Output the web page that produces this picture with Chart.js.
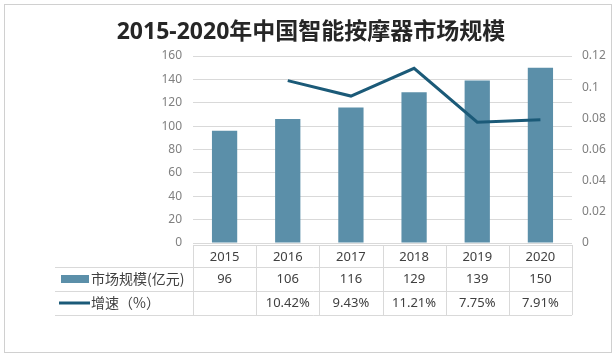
<!DOCTYPE html>
<html>
<head>
<meta charset="utf-8">
<script src="https://cdn.jsdelivr.net/npm/chart.js"></script>
<style>
  html, body { margin: 0; padding: 0; background: #fff; }
  #wrap { width: 616px; height: 358px; position: relative; }
</style>
</head>
<body>
<div id="wrap"><canvas id="chart" width="616" height="358"></canvas></div>
<script>
  // chart data
  const titleText = '2015-2020年中国智能按摩器市场规模';
  const years = ['2015', '2016', '2017', '2018', '2019', '2020'];
  const marketSize = [96, 106, 116, 129, 139, 150];
  const growthRate = [null, 0.1042, 0.0943, 0.1121, 0.0775, 0.0791];
  const leftTicks = { min: 0, max: 160, step: 20 };
  const rightTicks = { min: 0, max: 0.12, step: 0.02 };
  const seriesNames = ['市场规模(亿元)', '增速（%）'];

  const barColor = '#5b8fa9';
  const lineColor = '#1b5a78';
  const gridColor = '#d9d9d9';
  const latin = '"Noto Sans", "Noto Sans CJK SC", sans-serif';
  const cjk = '"Noto Sans CJK SC", "Noto Sans", sans-serif';

  // frame, title and the data table under the plot
  const decor = {
    id: 'decor',
    beforeDraw(chart) {
      const ctx = chart.ctx;
      ctx.save();
      ctx.fillStyle = '#fff';
      ctx.fillRect(0, 0, chart.width, chart.height);
      ctx.strokeStyle = '#d0d0d0';
      ctx.lineWidth = 1;
      ctx.strokeRect(4.5, 4.5, 607, 348);
      ctx.restore();
    },
    afterDraw(chart) {
      const ctx = chart.ctx;
      const area = chart.chartArea;
      const x = chart.scales.x;
      const half = (area.right - area.left) / years.length / 2;
      ctx.save();

      // title
      ctx.fillStyle = '#262626';
      ctx.font = 'bold 23px ' + latin;
      ctx.textAlign = 'center';
      ctx.textBaseline = 'middle';
      ctx.fillText(titleText, 311, 32);

      // table lines
      const top = area.bottom + 2;
      const rows = [top, top + 22, top + 46, top + 70];
      const tableLeft = 55;
      ctx.strokeStyle = gridColor;
      ctx.lineWidth = 1;
      ctx.beginPath();
      ctx.moveTo(area.left, rows[0] + 0.5);
      ctx.lineTo(area.right, rows[0] + 0.5);
      for (let r = 1; r < rows.length; r++) {
        ctx.moveTo(tableLeft, rows[r] + 0.5);
        ctx.lineTo(area.right, rows[r] + 0.5);
      }
      for (let i = 0; i <= years.length; i++) {
        const bx = Math.round(area.left + i * half * 2) + 0.5;
        ctx.moveTo(bx, rows[0]);
        ctx.lineTo(bx, rows[3]);
      }
      ctx.stroke();

      // table text
      ctx.fillStyle = '#404040';
      ctx.font = '13px ' + latin;
      ctx.textAlign = 'center';
      years.forEach((yr, i) => {
        const cx = x.getPixelForValue(i);
        ctx.fillText(yr, cx, (rows[0] + rows[1]) / 2 + 1);
        ctx.fillText(String(marketSize[i]), cx, (rows[1] + rows[2]) / 2);
        if (growthRate[i] != null) {
          ctx.fillText((growthRate[i] * 100).toFixed(2) + '%', cx, (rows[2] + rows[3]) / 2);
        }
      });

      // legend keys inside the table
      const y2 = (rows[1] + rows[2]) / 2;
      const y3 = (rows[2] + rows[3]) / 2;
      ctx.fillStyle = barColor;
      ctx.fillRect(61, y2 - 4, 28, 8);
      ctx.strokeStyle = lineColor;
      ctx.lineWidth = 3;
      ctx.beginPath();
      ctx.moveTo(59, y3);
      ctx.lineTo(90, y3);
      ctx.stroke();
      ctx.fillStyle = '#404040';
      ctx.font = '14px ' + cjk;
      ctx.textAlign = 'left';
      ctx.fillText(seriesNames[0], 91, y2);
      ctx.fillText(seriesNames[1], 91, y3);
      ctx.restore();
    }
  };

  const fixWidth = w => scale => { scale.width = w; };

  new Chart(document.getElementById('chart'), {
    type: 'bar',
    data: {
      labels: years,
      datasets: [
        {
          type: 'line',
          label: seriesNames[1],
          data: growthRate,
          yAxisID: 'y1',
          borderColor: lineColor,
          borderWidth: 3,
          pointRadius: 0,
          tension: 0,
          order: 0
        },
        {
          type: 'bar',
          label: seriesNames[0],
          data: marketSize,
          yAxisID: 'y',
          backgroundColor: barColor,
          categoryPercentage: 1,
          barPercentage: 0.4,
          order: 1
        }
      ]
    },
    options: {
      responsive: false,
      animation: false,
      layout: { padding: { left: 153, right: 4, top: 56, bottom: 115 } },
      plugins: {
        legend: { display: false },
        title: { display: false },
        tooltip: { enabled: false }
      },
      scales: {
        x: { display: false },
        y: {
          position: 'left',
          min: leftTicks.min,
          max: leftTicks.max,
          afterFit: fixWidth(40),
          border: { display: false },
          grid: { color: gridColor, drawTicks: false },
          ticks: {
            stepSize: leftTicks.step,
            padding: 11,
            color: '#808080',
            font: { size: 12, family: latin }
          }
        },
        y1: {
          position: 'right',
          min: rightTicks.min,
          max: rightTicks.max,
          afterFit: fixWidth(40),
          border: { display: false },
          grid: { display: false, drawTicks: false },
          ticks: {
            stepSize: rightTicks.step,
            padding: 10,
            color: '#808080',
            font: { size: 12, family: latin },
            callback: v => String(Number(v.toFixed(2)))
          }
        }
      }
    },
    plugins: [decor]
  });
</script>
</body>
</html>
